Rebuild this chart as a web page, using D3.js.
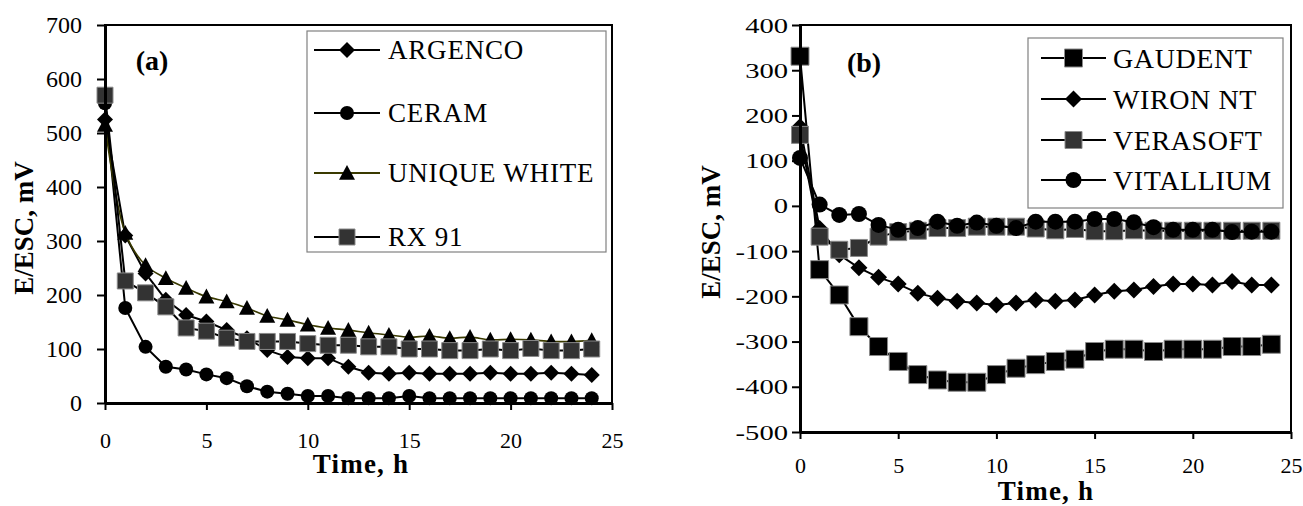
<!DOCTYPE html>
<meta charset="utf-8">
<style>
body{ margin: 0; background: white; }
svg, svg text{ font-family: "Liberation Serif", "Times New Roman", serif; }
svg{ display: block; }
.tick line{ stroke: black; stroke-width: 2px; }
.domain{ stroke: black; stroke-width: 3px; }
</style>
<body>
<script src="https://cdn.jsdelivr.net/npm/d3@7"></script>
<script>

var hours = [0,1,2,3,4,5,6,7,8,9,10,11,12,13,14,15,16,17,18,19,20,21,22,23,24]
var xTicks = [0,5,10,15,20,25]
var yTicksA = [0,100,200,300,400,500,600,700]
var yTicksB = [-500,-400,-300,-200,-100,0,100,200,300,400]

// panel (a)
var argenco     = [525,310,240,191,163,151,135,120,98,85,83,83,67,56,54,56,54,54,54,56,54,54,56,54,52]
var ceram       = [555,176,104,67,62,53,46,31,21,17,13,13,9,9,9,13,9,9,9,9,9,9,9,9,9]
var uniqueWhite = [515,315,255,231,213,197,188,176,161,154,145,139,135,130,126,122,124,120,122,117,118,117,114,114,116]
var rx91        = [570,226,204,178,139,133,120,114,114,114,110,107,107,104,104,100,100,97,97,100,97,101,97,97,100]

// panel (b)
var gaudent   = [331,-141,-197,-267,-311,-344,-373,-385,-390,-390,-373,-359,-351,-344,-339,-322,-317,-317,-322,-317,-317,-317,-311,-311,-306]
var wiron     = [175,-50,-108,-137,-158,-173,-193,-204,-211,-215,-219,-215,-208,-211,-208,-197,-189,-186,-178,-173,-173,-175,-167,-175,-175]
var verasoft  = [157,-68,-97,-93,-68,-58,-55,-49,-49,-46,-46,-46,-50,-54,-51,-56,-56,-54,-55,-55,-55,-55,-55,-55,-55]
var vitallium = [106,3,-20,-18,-42,-53,-49,-35,-44,-37,-44,-49,-35,-35,-35,-29,-29,-36,-47,-53,-53,-53,-58,-57,-57]

var serif = '"Liberation Serif", "Times New Roman", serif'

var svg = d3.select('body').append('svg')
    .attr('width', 1303).attr('height', 506)

function shape(type, s){
  var h = s / 2
  if (type == 'diamond') return 'M0,' + (-h) + 'L' + h + ',0L0,' + h + 'L' + (-h) + ',0Z'
  if (type == 'triangle') return 'M0,' + (-h) + 'L' + h + ',' + (h*0.85) + 'L' + (-h) + ',' + (h*0.85) + 'Z'
  if (type == 'square') return 'M' + (-h) + ',' + (-h) + 'h' + s + 'v' + s + 'h' + (-s) + 'Z'
  return 'M' + h + ',0A' + h + ',' + h + ' 0 1,1 ' + (-h) + ',0A' + h + ',' + h + ' 0 1,1 ' + h + ',0Z'
}

function plain(d){ return String(d) }

function panel(o){
  var g = svg.append('g')
  var x = d3.scaleLinear().domain([0, 25]).range([o.left, o.right])
  var y = d3.scaleLinear().domain(o.yDomain).range([o.bottom, o.top])

  g.append('rect')
      .attr('x', o.left).attr('y', o.top)
      .attr('width', o.right - o.left).attr('height', o.bottom - o.top)
      .style('fill', 'none').style('stroke', 'black').style('stroke-width', 2)

  // legend box
  g.append('rect')
      .attr('x', o.legend.x).attr('y', o.legend.y)
      .attr('width', o.legend.w).attr('height', o.legend.h)
      .style('fill', 'white').style('stroke', '#808080').style('stroke-width', 1.2)

  o.series.forEach(function(s, i){
    var line = d3.line()
        .x(function(d, j){ return x(hours[j]) })
        .y(function(d){ return y(d) })
        .curve(s.smooth ? d3.curveCatmullRom : d3.curveLinear)
    g.append('path')
        .attr('d', line(s.values))
        .style('fill', 'none').style('stroke', s.line).style('stroke-width', s.lw)
    g.selectAll(null).data(s.values).enter().append('path')
        .attr('transform', function(d, j){ return 'translate(' + x(hours[j]) + ',' + y(d) + ')' })
        .attr('d', shape(s.marker, s.size))
        .style('fill', s.fill).style('stroke', s.stroke || 'none').style('stroke-width', 1)

    var ly = o.legend.rows[i]
    g.append('line')
        .attr('x1', o.legend.lx1).attr('x2', o.legend.lx2).attr('y1', ly).attr('y2', ly)
        .style('stroke', s.line).style('stroke-width', 2)
    g.append('path')
        .attr('transform', 'translate(' + (o.legend.lx1 + o.legend.lx2) / 2 + ',' + ly + ')')
        .attr('d', shape(s.marker, s.size))
        .style('fill', s.fill).style('stroke', s.stroke || 'none').style('stroke-width', 1)
    g.append('text')
        .attr('x', o.legend.tx).attr('y', ly).attr('dy', '0.34em')
        .style('font-family', serif)
        .style('font-size', o.legend.fs + 'px').style('letter-spacing', o.legend.ls + 'px')
        .text(s.name)
  })

  var yAxis = g.append('g')
      .attr('transform', 'translate(' + o.left + ',0)')
      .call(d3.axisLeft(y).tickValues(o.yTicks).tickFormat(plain)
        .tickSize(8).tickSizeOuter(0).tickPadding(o.yPad))
  yAxis.attr('font-family', serif)
  yAxis.selectAll('text').style('font-family', serif).style('font-size', o.yFs + 'px').style('fill', 'black')
  if (o.yStretch) {
    yAxis.selectAll('text')
        .attr('x', -(8 + o.yPad) / o.yStretch)
        .attr('transform', 'scale(' + o.yStretch + ',1)')
  }

  var xAxis = g.append('g')
      .attr('transform', 'translate(0,' + o.bottom + ')')
      .call(d3.axisBottom(x).tickValues(xTicks).tickFormat(plain)
        .tickSize(7).tickSizeOuter(0).tickPadding(o.xPad))
  xAxis.attr('font-family', serif)
  xAxis.selectAll('text').style('font-family', serif).style('font-size', '22px').style('fill', 'black')

  g.append('text')
      .attr('x', o.xTitle[0]).attr('y', o.xTitle[1])
      .attr('text-anchor', 'middle')
      .style('font-family', serif)
      .style('font-size', '27px').style('font-weight', 'bold').style('letter-spacing', '1.2px')
      .text('Time, h')

  g.append('text')
      .attr('transform', 'translate(' + o.yTitle[0] + ',' + o.yTitle[1] + ') rotate(-90)')
      .attr('text-anchor', 'middle')
      .style('font-family', serif)
      .style('font-size', '27px').style('font-weight', 'bold')
      .text('E/ESC, mV')

  g.append('text')
      .attr('x', o.label[0]).attr('y', o.label[1])
      .attr('text-anchor', 'middle')
      .style('font-family', serif)
      .style('font-size', '28px').style('font-weight', 'bold')
      .text(o.labelText)
}

panel({
  left: 105, right: 612, top: 25, bottom: 403,
  yDomain: [0, 700], yTicks: yTicksA, yPad: 15, yFs: 24, xPad: 22,
  xTitle: [361, 473], yTitle: [33, 228], label: [152, 70], labelText: '(a)',
  legend: {x: 307, y: 31, w: 299, h: 221, rows: [50, 113, 173, 237], lx1: 314, lx2: 380, tx: 388, fs: 27, ls: 0.8},
  series: [
    {name: 'ARGENCO', values: argenco, marker: 'diamond', size: 16, fill: 'black', line: 'black', lw: 2},
    {name: 'CERAM', values: ceram, marker: 'circle', size: 14, fill: 'black', line: 'black', lw: 2},
    {name: 'UNIQUE WHITE', values: uniqueWhite, marker: 'triangle', size: 16, fill: 'black', line: '#3a3a00', lw: 1.6, smooth: true},
    {name: 'RX 91', values: rx91, marker: 'square', size: 16, fill: '#333333', stroke: '#8a8a8a', line: 'black', lw: 2}
  ]
})

panel({
  left: 800, right: 1291, top: 25, bottom: 432,
  yDomain: [-500, 400], yTicks: yTicksB, yPad: 4, yFs: 22, yStretch: 1.3, xPad: 18,
  xTitle: [1046, 500], yTitle: [720, 232], label: [864, 72], labelText: '(b)',
  legend: {x: 1028, y: 38, w: 255, h: 170, rows: [58, 99, 140, 180], lx1: 1041, lx2: 1106, tx: 1113, fs: 28, ls: 0.6},
  series: [
    {name: 'GAUDENT', values: gaudent, marker: 'square', size: 18, fill: 'black', stroke: '#8a8a8a', line: 'black', lw: 2},
    {name: 'WIRON NT', values: wiron, marker: 'diamond', size: 17, fill: 'black', line: 'black', lw: 2},
    {name: 'VERASOFT', values: verasoft, marker: 'square', size: 17, fill: '#333333', stroke: '#8a8a8a', line: 'black', lw: 2},
    {name: 'VITALLIUM', values: vitallium, marker: 'circle', size: 16, fill: 'black', line: 'black', lw: 2}
  ]
})

</script>
